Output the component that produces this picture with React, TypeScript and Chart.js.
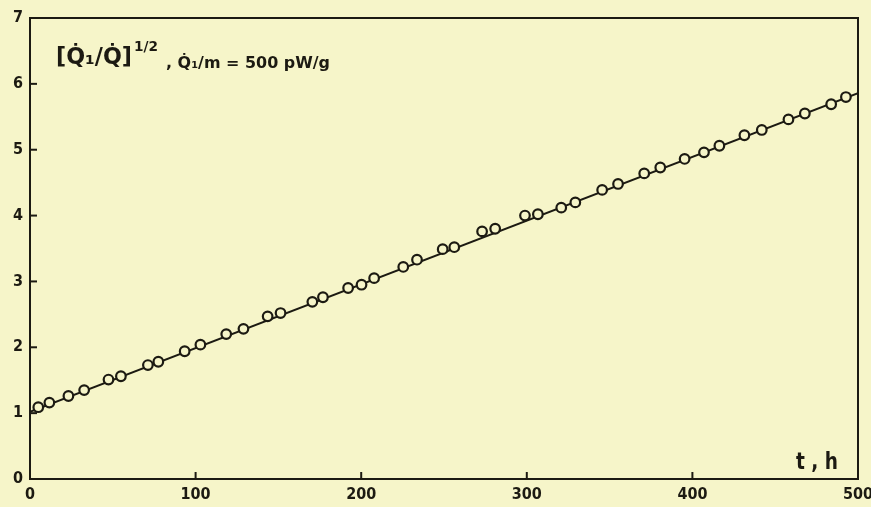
import React, { useEffect, useRef } from "react";
import { Chart, registerables } from "chart.js";

Chart.register(...registerables);

const tHours = [5, 11.7, 23.2, 32.7, 47.4, 54.9, 71.2, 77.5, 93.4, 102.9, 118.5, 128.9, 143.5, 151.3, 170.5, 176.9, 192.1, 200.2, 207.8, 225.4, 233.7, 249.2, 256.2, 273, 280.9, 298.9, 306.7, 320.8, 329.3, 345.5, 355.1, 370.9, 380.6, 395.3, 407, 416.3, 431.4, 441.9, 458, 467.9, 483.8, 492.7];
const ratio = [1.09, 1.16, 1.26, 1.35, 1.51, 1.56, 1.73, 1.78, 1.94, 2.04, 2.2, 2.28, 2.47, 2.52, 2.69, 2.76, 2.9, 2.95, 3.05, 3.22, 3.33, 3.49, 3.52, 3.76, 3.8, 4.0, 4.02, 4.12, 4.2, 4.39, 4.48, 4.64, 4.73, 4.86, 4.96, 5.06, 5.22, 5.3, 5.46, 5.55, 5.69, 5.8];
const fitT = [0, 500];
const fitV = [1.02, 5.86];
const xTicks = [0, 100, 200, 300, 400, 500];
const yTicks = [0, 1, 2, 3, 4, 5, 6, 7];

const BG = "#f6f5c9";
const INK = "#1c1a12";
const FONT = "'DejaVu Sans Condensed', 'DejaVu Sans', sans-serif";
const FONT_W = "'DejaVu Sans', sans-serif";

function drawFit(ctx: any, text: string, x: number, y: number, w: number) {
  const m = ctx.measureText(text).width;
  ctx.save();
  ctx.translate(x, y);
  ctx.scale(w / m, 1);
  ctx.fillText(text, 0, 0);
  ctx.restore();
}

const decorPlugin = {
  id: "decor",
  afterDraw(chart: any) {
    const { ctx, chartArea, scales } = chart;
    const { left, right, top, bottom } = chartArea;
    ctx.save();
    ctx.strokeStyle = INK;
    ctx.lineWidth = 2;
    ctx.strokeRect(left, top, right - left, bottom - top);
    yTicks.slice(1, -1).forEach((v) => {
      const py = scales.y.getPixelForValue(v);
      ctx.beginPath();
      ctx.moveTo(left, py);
      ctx.lineTo(left + 7, py);
      ctx.stroke();
    });
    xTicks.slice(1, -1).forEach((v) => {
      const px = scales.x.getPixelForValue(v);
      ctx.beginPath();
      ctx.moveTo(px, bottom);
      ctx.lineTo(px, bottom - 7);
      ctx.stroke();
    });
    ctx.fillStyle = INK;
    ctx.textBaseline = "alphabetic";
    ctx.font = `bold 23px ${FONT_W}`;
    drawFit(ctx, "[Q\u0307\u2081/Q\u0307]", 56, 64, 76);
    ctx.font = `bold 14px ${FONT}`;
    drawFit(ctx, "1/2", 134, 51, 24);
    ctx.font = `bold 16px ${FONT_W}`;
    drawFit(ctx, ", Q\u0307\u2081/m = 500 pW/g", 166, 68, 164);
    ctx.font = `bold 23px ${FONT_W}`;
    drawFit(ctx, "t , h", 796, 469, 42);
    ctx.restore();
  },
};

export default function App() {
  const ref = useRef<HTMLCanvasElement | null>(null);
  useEffect(() => {
    document.body.style.margin = "0";
    document.body.style.background = BG;
    const chart = new Chart(ref.current as HTMLCanvasElement, {
      type: "scatter",
      data: {
        datasets: [
          {
            label: "points",
            data: tHours.map((t, i) => ({ x: t, y: ratio[i] })),
            pointRadius: 4.8,
            pointBorderWidth: 2.2,
            pointBorderColor: INK,
            pointBackgroundColor: BG,
            showLine: false,
            order: 0,
          },
          {
            label: "fit",
            data: fitT.map((t, i) => ({ x: t, y: fitV[i] })),
            showLine: true,
            borderColor: INK,
            borderWidth: 2,
            pointRadius: 0,
            order: 1,
          },
        ],
      },
      options: {
        animation: false,
        responsive: false,
        layout: { padding: { top: 18, right: 13, left: 0, bottom: 0 } },
        plugins: { legend: { display: false }, tooltip: { enabled: false } },
        scales: {
          x: {
            type: "linear",
            min: 0,
            max: 500,
            afterBuildTicks: (s: any) => {
              s.ticks = xTicks.map((v) => ({ value: v }));
            },
            afterFit: (s: any) => {
              s.height = 28;
              s.paddingLeft = 0;
              s.paddingRight = 0;
            },
            grid: { display: false, drawTicks: false },
            border: { display: false },
            ticks: {
              color: INK,
              font: { family: FONT, weight: "bold", size: 16 },
              padding: 6,
              maxRotation: 0,
            },
          },
          y: {
            type: "linear",
            min: 0,
            max: 7,
            afterBuildTicks: (s: any) => {
              s.ticks = yTicks.map((v) => ({ value: v }));
            },
            afterFit: (s: any) => {
              s.width = 30;
              s.paddingTop = 0;
              s.paddingBottom = 0;
            },
            grid: { display: false, drawTicks: false },
            border: { display: false },
            ticks: {
              color: INK,
              font: { family: FONT, weight: "bold", size: 16 },
              padding: 7,
            },
          },
        },
      },
      plugins: [decorPlugin],
    } as any);
    return () => chart.destroy();
  }, []);
  return (
    <div style={{ position: "fixed", left: 0, top: 0, width: 871, height: 507, background: BG }}>
      <canvas ref={ref} width={871} height={507} style={{ width: 871, height: 507, display: "block" }} />
    </div>
  );
}
